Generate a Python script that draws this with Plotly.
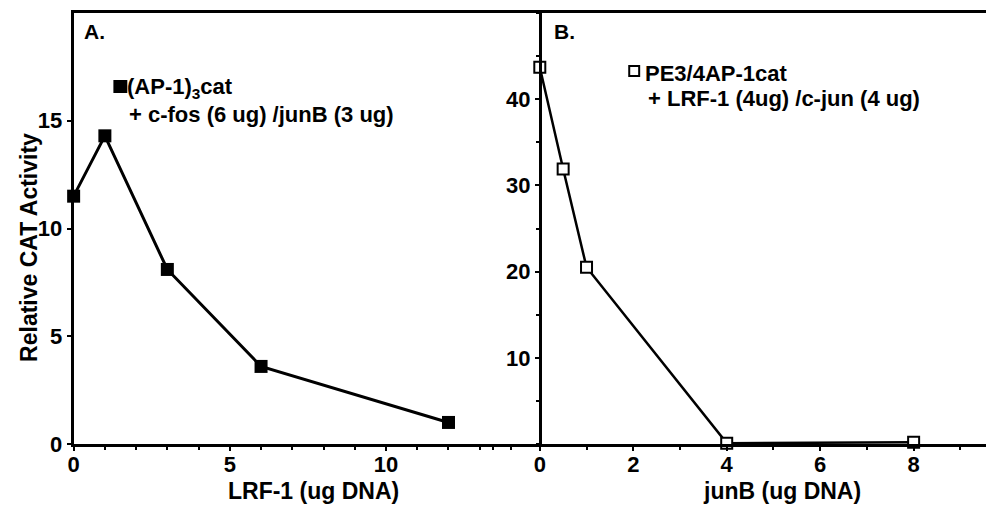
import plotly.graph_objects as go

# Panel A data
lrf1_dna = [0, 1, 3, 6, 12]
cat_a = [11.5, 14.3, 8.1, 3.6, 1.0]
# Panel B data
junb_dna = [0, 0.5, 1, 4, 8]
cat_b = [43.7, 31.9, 20.5, 0.1, 0.2]

a_xticks = [0, 5, 10]
a_yticks = [0, 5, 10, 15]
b_xticks = [0, 2, 4, 6, 8]
b_yticks = [10, 20, 30, 40]

# page has an 8px body margin; compensate so the picture lines up
OFF = 8
W, H = 994 - OFF, 506 - OFF
PLOT_TOP, PLOT_BOTTOM = 13, 444          # page pixels
MT = PLOT_TOP - OFF
MB = H - (PLOT_BOTTOM - OFF)
PH = PLOT_BOTTOM - PLOT_TOP

def px(x):
    return (x - OFF) / W

def py(y):
    return (PLOT_BOTTOM - y) / PH

FONT = "Liberation Sans, Arial, Helvetica, sans-serif"
tickfont = dict(family=FONT, size=22, color="black", weight="bold")

fig = go.Figure()
fig.add_trace(go.Scatter(
    x=lrf1_dna, y=cat_a, mode="lines+markers", xaxis="x", yaxis="y",
    line=dict(color="black", width=3),
    marker=dict(symbol="square", size=13, color="black"),
    cliponaxis=False, showlegend=False))
fig.add_trace(go.Scatter(
    x=junb_dna, y=cat_b, mode="lines+markers", xaxis="x2", yaxis="y2",
    line=dict(color="black", width=2.5),
    marker=dict(symbol="square", size=11, color="white",
                line=dict(color="black", width=2)),
    cliponaxis=False, showlegend=False))

axis_common = dict(showgrid=False, zeroline=False, showline=True,
                   linecolor="black", linewidth=3, ticks="outside",
                   tickcolor="black", tickwidth=2, tickfont=tickfont)
minor_x = dict(dtick=1, tick0=0, ticklen=3, tickwidth=2,
               tickcolor="black", ticks="outside")

fig.update_layout(
    width=W, height=H,
    margin=dict(l=0, r=0, t=MT, b=MB),
    paper_bgcolor="white", plot_bgcolor="white",
    xaxis=dict(domain=[px(68), px(508)], range=[0, 14], anchor="y",
               tickvals=a_xticks, ticklen=4, mirror=True,
               ticklabelstandoff=-5, minor=minor_x, **axis_common),
    yaxis=dict(domain=[0, 1], range=[0, 20], anchor="x",
               tickvals=a_yticks, ticklen=4, **axis_common),
    xaxis2=dict(domain=[px(490), 1.0], range=[-1, 9.72], anchor="y2",
                tickvals=b_xticks, ticklen=4, mirror=True,
                ticklabelstandoff=-5, minor=minor_x, **axis_common),
    yaxis2=dict(domain=[0, 1], range=[0, 50], anchor="free",
                position=px(537),
                tickvals=b_yticks, ticklen=4,
                minor=dict(dtick=5, tick0=0, ticklen=3, tickwidth=2,
                           tickcolor="black", ticks="outside"),
                **axis_common),
)

def ann(text, x, y, size=22, xanchor="center", yanchor="middle", angle=0):
    fig.add_annotation(text=text, x=px(x), y=py(y), xref="paper", yref="paper",
                       xanchor=xanchor, yanchor=yanchor, showarrow=False,
                       textangle=angle, borderpad=0,
                       font=dict(family=FONT, size=size, color="black", weight="bold"))

ann("Relative CAT Activity", 23, 247, size=23, angle=-90)
ann("LRF-1 (ug DNA)", 309, 491, size=23)
ann("junB (ug DNA)", 781, 491, size=23)
ann("A.", 89, 32, size=21)
ann("B.", 562, 32, size=21)
ann("(AP-1)<sub>3</sub>cat", 121, 88, size=22, xanchor="left")
ann("+ c-fos (6 ug) /junB (3 ug)", 123, 114, size=22, xanchor="left")
ann("PE3/4AP-1cat", 642, 73, size=22, xanchor="left")
ann("+ LRF-1 (4ug) /c-jun (4 ug)", 645, 99, size=22, xanchor="left")

# legend keys
fig.add_shape(type="rect", xref="paper", yref="paper",
              x0=px(108), x1=px(122), y0=py(93), y1=py(80),
              fillcolor="black", line=dict(color="black", width=0))
fig.add_shape(type="rect", xref="paper", yref="paper",
              x0=px(627), x1=px(637), y0=py(76), y1=py(66),
              fillcolor="white", line=dict(color="black", width=2))

fig.write_html("out.html")
